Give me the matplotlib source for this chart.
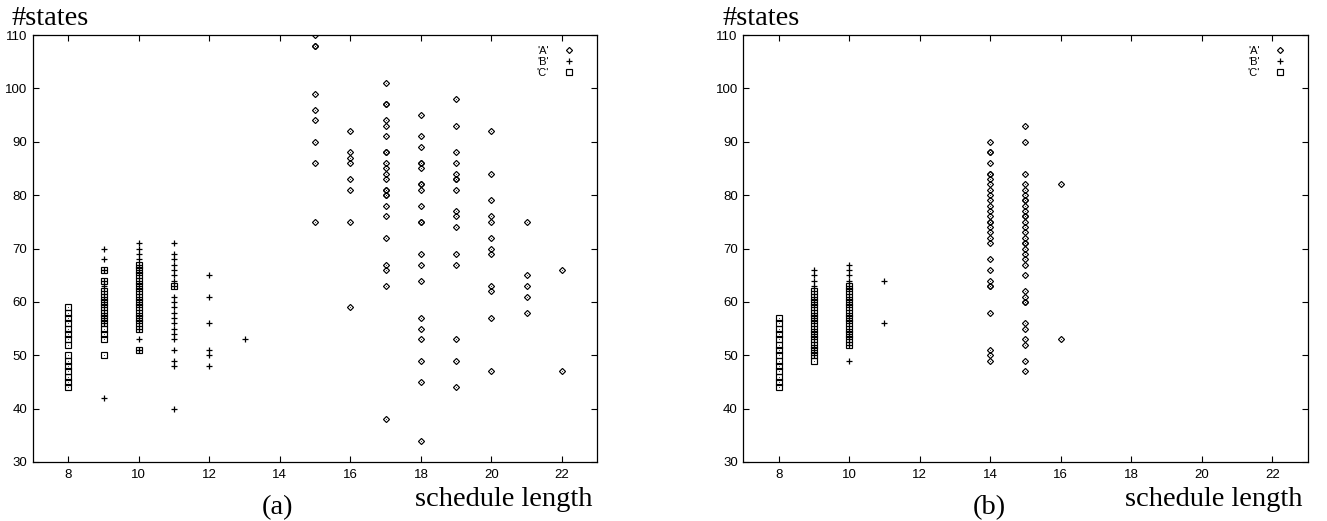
import matplotlib
matplotlib.use("Agg")
import matplotlib.pyplot as plt

# ---------------- data (a) ----------------
a_A_lengths = [15, 16, 17, 18, 19, 20, 21, 22]
a_A_states = [
    [110, 108, 108, 99, 96, 94, 90, 86, 75],
    [92, 88, 87, 86, 83, 81, 75, 59],
    [101, 97, 97, 94, 93, 91, 88, 88, 86, 85, 84, 83, 81, 81, 80, 80, 78, 76, 72, 67, 66, 63, 38],
    [95, 91, 89, 86, 86, 85, 82, 82, 81, 78, 75, 75, 69, 67, 64, 57, 55, 53, 49, 45, 34],
    [98, 93, 88, 86, 84, 83, 83, 81, 77, 76, 74, 69, 67, 53, 49, 44],
    [92, 84, 79, 76, 75, 72, 70, 69, 63, 62, 57, 47],
    [75, 65, 63, 61, 58],
    [66, 47],
]
a_B_lengths = [9, 10, 11, 12, 13]
a_B_states = [
    [42, 56, 57, 58, 59, 60, 61, 62, 63, 64, 66, 68, 70],
    [51, 53, 55, 56, 57, 58, 59, 60, 61, 62, 63, 64, 65, 66, 67, 68, 69, 70, 71],
    [40, 48, 49, 51, 53, 54, 55, 56, 57, 58, 59, 60, 61, 63, 64, 65, 66, 67, 68, 69, 71],
    [48, 50, 51, 56, 61, 65],
    [53],
]
a_C_lengths = [8, 9, 10, 11]
a_C_states = [
    [44, 45, 46, 47, 48, 49, 50, 52, 53, 54, 55, 56, 57, 58, 59],
    [50, 53, 54, 55, 56, 57, 58, 59, 60, 61, 62, 64, 66],
    [51, 55, 56, 57, 58, 59, 60, 61, 62, 63, 64, 65, 66, 67],
    [63],
]

# ---------------- data (b) ----------------
b_A_lengths = [14, 15, 16]
b_A_states = [
    [90, 88, 88, 86, 84, 84, 83, 82, 81, 80, 79, 78, 77, 76, 75, 75, 74, 73, 72, 71,
     68, 66, 64, 63, 63, 58, 51, 50, 49],
    [93, 90, 84, 82, 81, 80, 79, 79, 78, 77, 76, 76, 75, 74, 73, 72, 71, 71, 70, 69,
     68, 67, 65, 62, 61, 60, 60, 56, 55, 53, 52, 49, 47],
    [82, 53],
]
b_B_lengths = [9, 10, 11]
b_B_states = [
    [50, 51, 52, 53, 54, 55, 56, 57, 58, 59, 60, 61, 62, 63, 64, 65, 66],
    [49, 52, 53, 54, 55, 56, 57, 58, 59, 60, 61, 62, 63, 64, 65, 66, 67],
    [56, 64],
]
b_C_lengths = [8, 9, 10]
b_C_states = [
    [44, 45, 46, 47, 48, 49, 50, 51, 52, 53, 54, 55, 56, 57],
    [49, 50, 51, 52, 53, 54, 55, 56, 57, 58, 59, 60, 61, 62],
    [52, 53, 54, 55, 56, 57, 58, 59, 60, 61, 62, 63],
]

x_ticks = [8, 10, 12, 14, 16, 18, 20, 22]
y_ticks = [30, 40, 50, 60, 70, 80, 90, 100, 110]
series_labels = ["'A'", "'B'", "'C'"]
panel_labels = ["(a)", "(b)"]
x_label = "schedule length"
y_label = "#states"


def flatten(lengths, states):
    xs, ys = [], []
    for x, vals in zip(lengths, states):
        xs.extend([x] * len(vals))
        ys.extend(vals)
    return xs, ys


W, H = 1327, 521
fig = plt.figure(figsize=(W / 100, H / 100), dpi=100)

sans = "Liberation Sans"
serif = "Liberation Serif"

ax_left_px = [33, 743.3]
ax_w_px = 564.3
ax_top_px, ax_bot_px = 35, 462

panels = [
    (a_A_lengths, a_A_states, a_B_lengths, a_B_states, a_C_lengths, a_C_states),
    (b_A_lengths, b_A_states, b_B_lengths, b_B_states, b_C_lengths, b_C_states),
]

for i, (Al, As, Bl, Bs, Cl, Cs) in enumerate(panels):
    l = ax_left_px[i]
    ax = fig.add_axes([l / W, 1 - ax_bot_px / H, ax_w_px / W, (ax_bot_px - ax_top_px) / H])
    xa, ya = flatten(Al, As)
    xb, yb = flatten(Bl, Bs)
    xc, yc = flatten(Cl, Cs)
    ax.plot(xa, ya, linestyle="none", marker="D", ms=3.1, mfc="none", mec="black",
            mew=0.85, label=series_labels[0])
    ax.plot(xb, yb, linestyle="none", marker="+", ms=5.0, mec="black",
            mew=0.9, label=series_labels[1])
    ax.plot(xc, yc, linestyle="none", marker="s", ms=3.8, mfc="none", mec="black",
            mew=0.85, label=series_labels[2])
    ax.plot(xa + xc, ya + yc, linestyle="none", marker="s", ms=0.6, mfc="black",
            mec="none")

    ax.set_xlim(7, 23)
    ax.set_ylim(30, 110)
    ax.set_xticks(x_ticks)
    ax.set_yticks(y_ticks)
    ax.tick_params(direction="in", top=True, right=True, length=4, width=0.8,
                   labelsize=9.5)
    ax.tick_params(axis="x", pad=5)
    ax.tick_params(axis="y", pad=4)
    for lab in ax.get_xticklabels() + ax.get_yticklabels():
        lab.set_fontfamily(sans)
    for s in ax.spines.values():
        s.set_linewidth(0.9)

    ax_r = l + ax_w_px
    ax.legend(loc="upper right", markerfirst=False, frameon=False,
              prop={"family": sans, "size": 8},
              handlelength=1.0, handletextpad=1.3, labelspacing=0.08,
              borderpad=0.4, borderaxespad=0,
              bbox_to_anchor=(0.968, 0.984))

    fig.text((l - 21) / W, 1 - 25 / H, y_label, family=serif, fontsize=20.5,
             ha="left", va="baseline")
    fig.text((ax_r - 5) / W, 1 - 506 / H, x_label, family=serif, fontsize=20.5,
             ha="right", va="baseline")
    cx = [277.5, 989][i]
    fig.text(cx / W, 1 - 514 / H, panel_labels[i], family=serif, fontsize=20.5,
             ha="center", va="baseline")

fig.savefig("out.png", dpi=100)
